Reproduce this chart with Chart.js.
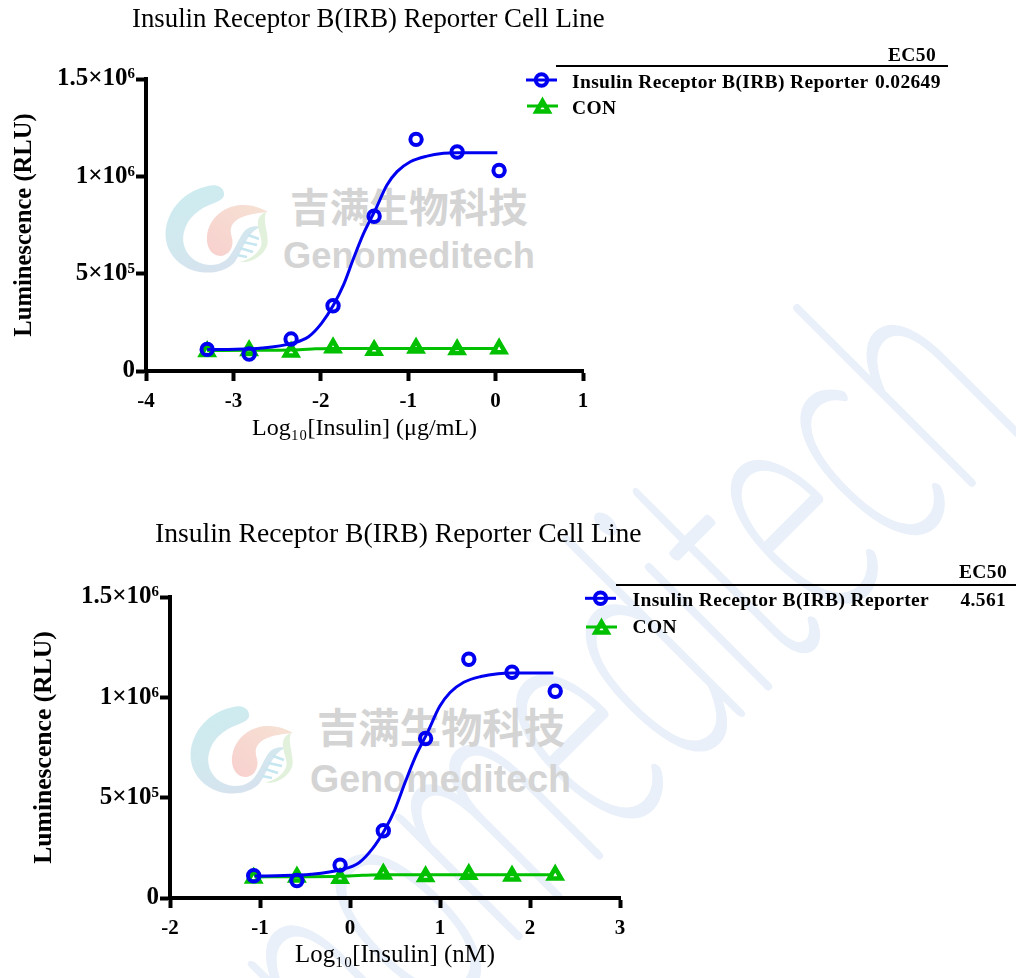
<!DOCTYPE html>
<html>
<head>
<meta charset="utf-8">
<title>Insulin Receptor B(IRB) Reporter Cell Line</title>
<script src="https://cdn.jsdelivr.net/npm/chart.js@4"></script>
<style>
  html, body { margin: 0; padding: 0; background: #fff; }
  #page { position: relative; width: 1016px; height: 978px; overflow: hidden; }
  #page svg, #page canvas { position: absolute; left: 0; }
  #page svg { top: 0; }
</style>
</head>
<body>
<div id="page">
  <svg width="1016" height="978" viewBox="0 0 1016 978">
    <defs>
      <linearGradient id="blueC" x1="0.2" y1="0" x2="0.6" y2="1">
        <stop offset="0" stop-color="#cdecf0"/>
        <stop offset="0.6" stop-color="#d2e8ef"/>
        <stop offset="1" stop-color="#d7e2ee"/>
      </linearGradient>
      <linearGradient id="pinkT" x1="1" y1="0" x2="0" y2="1">
        <stop offset="0" stop-color="#f6e2d4"/>
        <stop offset="1" stop-color="#f8d0ce"/>
      </linearGradient>
      <g id="logo">
        <path fill="url(#blueC)" d="M224 193 C223 186 215 184 208 186 C188 190 170 205 166 228 C163 248 175 265 195 271 C212 275 226 271 234 263 C240 255 243 245 248 238 C252 232 256 228 262 227 C254 225 247 227 243 233 C238 240 235 250 228 258 C222 265 208 268 196 261 C186 255 181 243 184 232 C187 218 200 208 212 204 C219 201 225 199 224 193 Z"/>
        <path fill="url(#pinkT)" d="M268 212 C258 206 250 205 241 205 C224 206 209 218 207 236 C206 248 212 256 221 256 C230 255 234 246 232 238 C229 229 231 223 240 218 C248 214 258 213 268 212 Z"/>
        <path fill="#e2f1dc" d="M266 212 C260 214 257 219 258 226 C259 234 263 240 261 246 C258 254 250 259 240 262 C252 263 263 256 267 246 C270 235 262 223 266 212 Z"/>
        <path stroke="#c6e6f0" stroke-width="2.6" fill="none" d="M248 235 L259 239 M243 242 L257 245 M240 248 L253 252 M237 255 L247 257"/>
      </g>
    </defs>
    <text id="bigMark" transform="matrix(0.396,-0.396,0.707,0.707,1031,422)" text-anchor="end"
          font-family="Lato" font-weight="100" font-size="340" fill="#e9f0f9"
          stroke="#e9f0f9" stroke-width="10" stroke-linejoin="round">Genomeditech</text>
    <use href="#logo"/>
    <text x="290" y="222" font-family="Noto Sans CJK SC" font-weight="700" font-size="40" fill="#d4d4d4" textLength="238" lengthAdjust="spacingAndGlyphs">吉满生物科技</text>
    <text x="283" y="268" font-family="Liberation Sans" font-weight="700" font-size="37" fill="#d4d4d4" textLength="252" lengthAdjust="spacingAndGlyphs">Genomeditech</text>
    <use href="#logo" transform="translate(25,521)"/>
    <text x="317" y="743" font-family="Noto Sans CJK SC" font-weight="700" font-size="41" fill="#d4d4d4" textLength="248" lengthAdjust="spacingAndGlyphs">吉满生物科技</text>
    <text x="310" y="792" font-family="Liberation Sans" font-weight="700" font-size="38" fill="#d4d4d4" textLength="261" lengthAdjust="spacingAndGlyphs">Genomeditech</text>
  </svg>
  <canvas id="chartUg" width="1016" height="489" style="top:0"></canvas>
  <canvas id="chartNm" width="1016" height="489" style="top:489px"></canvas>
</div>

<script>
const chartTitle = 'Insulin Receptor B(IRB) Reporter Cell Line';
const seriesNames = ['Insulin Receptor B(IRB) Reporter', 'CON'];
const yTicks = [0, 500000, 1000000, 1500000];
const yTickLabels = ['0', '5×10⁵', '1×10⁶', '1.5×10⁶'];

// measured points, same readings in both panels
const irbLum = [111000, 87000, 164000, 335000, 795000, 1190000, 1125000, 1030000];
const conLum = [100000, 105000, 98000, 120000, 107000, 118000, 110000, 114000];

// ug/mL panel
const doseUg = [-3.30, -2.82, -2.34, -1.86, -1.39, -0.91, -0.44, 0.04];
const irbFitXUg = [-3.30, -3.06, -2.67, -2.33, -2.14, -1.99, -1.855, -1.74, -1.625, -1.51, -1.377, -1.243, -1.128, -0.976, -0.785, -0.595, -0.44, 0.02];
const irbFitY = [110000, 111000, 118000, 142000, 176000, 246000, 339000, 442000, 579000, 707000, 827000, 955000, 1024000, 1075000, 1104000, 1118000, 1121000, 1121000];
const conFitXUg = [-3.30, -2.82, -2.34, -2.10, -1.86, -1.39, -0.91, -0.44, 0.02];
const conFitY = [105000, 106000, 108000, 113000, 116000, 116000, 116000, 116000, 116000];

// nM panel
const doseNm = [-1.07, -0.59, -0.11, 0.37, 0.84, 1.32, 1.80, 2.28];
const irbFitXNm = [-1.06, -0.82, -0.43, -0.09, 0.10, 0.25, 0.385, 0.50, 0.615, 0.73, 0.863, 0.997, 1.112, 1.264, 1.455, 1.645, 1.80, 2.26];
const conFitXNm = [-1.06, -0.58, -0.10, 0.14, 0.38, 0.85, 1.33, 1.80, 2.26];

const BLUE = '#0000f0';
const GREEN = '#00c000';
const SERIF = '"Liberation Serif", "Times New Roman", serif';

function toXY(xs, ys) {
  return xs.map((x, i) => ({ x: x, y: ys[i] }));
}

// title and the little EC50 table, the library legend can't do a table
const panelText = {
  id: 'panelText',
  afterDraw(chart, args, opts) {
    const c = chart.ctx;
    c.save();
    c.fillStyle = '#000';
    c.textBaseline = 'middle';
    c.textAlign = 'left';

    c.font = opts.titleSize + 'px ' + SERIF;
    c.fillText(chartTitle, opts.titleX, opts.titleY);

    c.font = 'bold ' + opts.textSize + 'px ' + SERIF;
    c.letterSpacing = opts.textSpacing;
    c.fillText('EC50', opts.ecX, opts.ecY);
    c.fillText(seriesNames[0], opts.labelX, opts.row1Y);
    c.fillText(seriesNames[1], opts.labelX, opts.row2Y);
    c.fillText(opts.ec50, opts.valueX, opts.row1Y);
    c.letterSpacing = '0px';

    c.strokeStyle = '#000';
    c.lineWidth = 2;
    c.beginPath();
    c.moveTo(opts.ruleX0, opts.ruleY);
    c.lineTo(opts.ruleX1, opts.ruleY);
    c.stroke();

    // legend samples
    c.fillStyle = 'transparent';
    c.lineWidth = 3;
    c.strokeStyle = BLUE;
    c.beginPath();
    c.moveTo(opts.sampleX, opts.sample1Y);
    c.lineTo(opts.sampleX + 31, opts.sample1Y);
    c.stroke();
    c.lineWidth = 4;
    Chart.helpers.drawPoint(c, { pointStyle: 'circle', radius: 5.7, borderWidth: 4 }, opts.sampleX + 15.5, opts.sample1Y);
    c.lineWidth = 3;
    c.strokeStyle = GREEN;
    c.beginPath();
    c.moveTo(opts.sampleX + 1, opts.sample2Y);
    c.lineTo(opts.sampleX + 32, opts.sample2Y);
    c.stroke();
    c.lineWidth = 4.5;
    Chart.helpers.drawPoint(c, { pointStyle: 'triangle', radius: 7, borderWidth: 4.5 }, opts.sampleX + 16.5, opts.sample2Y + 2);
    c.restore();
  }
};

function drawPanel(id, cfg) {
  new Chart(document.getElementById(id), {
    type: 'scatter',
    data: {
      datasets: [
        { label: 'IRB points', data: toXY(cfg.dose, irbLum), showLine: false, pointStyle: 'circle', pointRadius: 5.7, pointBorderWidth: 4, pointBorderColor: BLUE, pointBackgroundColor: 'transparent' },
        { label: 'IRB fit', data: toXY(cfg.irbFitX, irbFitY), showLine: true, borderColor: BLUE, borderWidth: 3, cubicInterpolationMode: 'monotone', pointRadius: 0 },
        { label: 'CON points', data: toXY(cfg.dose, conLum), showLine: false, pointStyle: 'triangle', pointRadius: 7, pointBorderWidth: 4.5, pointBorderColor: GREEN, pointBackgroundColor: 'transparent' },
        { label: 'CON fit', data: toXY(cfg.conFitX, conFitY), showLine: true, borderColor: GREEN, borderWidth: 3, cubicInterpolationMode: 'monotone', pointRadius: 0 }
      ]
    },
    options: {
      responsive: false,
      animation: false,
      layout: { padding: cfg.padding },
      plugins: {
        legend: { display: false },
        tooltip: { enabled: false },
        panelText: cfg.text
      },
      scales: {
        x: {
          type: 'linear',
          min: cfg.xMin,
          max: cfg.xMax,
          afterFit(scale) { scale.height = 72; },
          afterBuildTicks(scale) { scale.ticks = cfg.xTicks.map(v => ({ value: v })); },
          border: { color: '#000', width: 4 },
          grid: { drawOnChartArea: false, drawTicks: true, tickLength: 10, tickWidth: 4, tickColor: '#000' },
          ticks: { color: '#000', padding: 8, maxRotation: 0, autoSkip: false, font: { family: SERIF, size: 21, weight: 'bold' } },
          title: { display: true, text: cfg.xTitle, color: '#000', padding: { top: 2, bottom: 0 }, font: { family: SERIF, size: cfg.xTitleSize } }
        },
        y: {
          type: 'linear',
          min: 0,
          max: 1500000,
          afterFit(scale) { scale.width = cfg.yWidth; },
          afterBuildTicks(scale) { scale.ticks = yTicks.map(v => ({ value: v })); },
          border: { color: '#000', width: 4 },
          grid: { drawOnChartArea: false, drawTicks: true, tickLength: 10, tickWidth: 4, tickColor: '#000' },
          ticks: {
            color: '#000',
            padding: 1,
            autoSkip: false,
            font: { family: SERIF, size: 25, weight: 'bold' },
            callback(value) { return yTickLabels[yTicks.indexOf(value)]; }
          },
          title: { display: true, text: 'Luminescence (RLU)', color: '#000', padding: 0, font: { family: SERIF, size: cfg.yTitleSize, weight: 'bold' } }
        }
      }
    },
    plugins: [panelText]
  });
}

drawPanel('chartUg', {
  dose: doseUg, irbFitX: irbFitXUg, conFitX: conFitXUg,
  xMin: -4, xMax: 1, xTicks: [-4, -3, -2, -1, 0, 1],
  xTitle: 'Log₁₀[Insulin] (μg/mL)', xTitleSize: 24, yTitleSize: 24.6,
  yWidth: 136,
  padding: { left: 10, right: 433, top: 79, bottom: 46 },
  text: {
    titleX: 132, titleY: 20, titleSize: 26.8,
    ecX: 888, ecY: 56, ruleX0: 556, ruleX1: 948, ruleY: 66,
    labelX: 572, valueX: 875, row1Y: 82.5, row2Y: 108.5,
    sampleX: 526, sample1Y: 80, sample2Y: 106,
    textSize: 19.5, textSpacing: '0.35px', ec50: '0.02649'
  }
});

drawPanel('chartNm', {
  dose: doseNm, irbFitX: irbFitXNm, conFitX: conFitXNm,
  xMin: -2, xMax: 3, xTicks: [-2, -1, 0, 1, 2, 3],
  xTitle: 'Log₁₀[Insulin] (nM)', xTitleSize: 24.8, yTitleSize: 25.6,
  yWidth: 141,
  padding: { left: 29, right: 396, top: 108, bottom: 8 },
  text: {
    titleX: 155, titleY: 46, titleSize: 27.6,
    ecX: 959, ecY: 84, ruleX0: 616, ruleX1: 1016, ruleY: 96,
    labelX: 632.5, valueX: 960.5, row1Y: 111.5, row2Y: 138.5,
    sampleX: 585, sample1Y: 109.3, sample2Y: 138,
    textSize: 19.5, textSpacing: '0.35px', ec50: '4.561'
  }
});
</script>
</body>
</html>
